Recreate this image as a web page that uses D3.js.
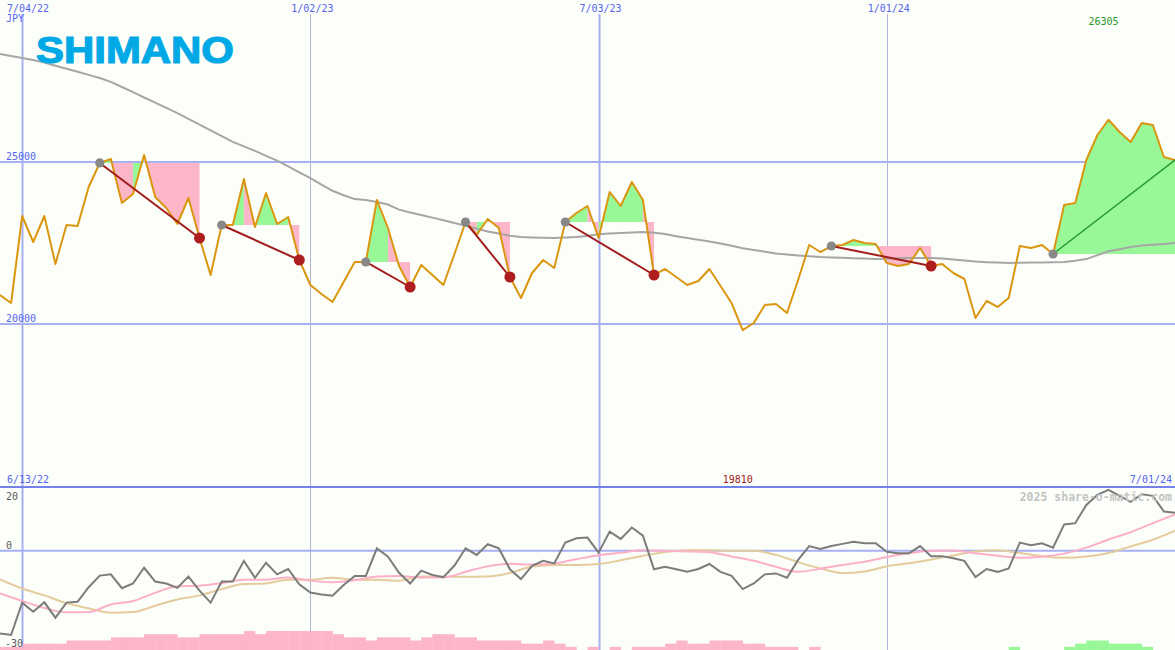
<!DOCTYPE html>
<html><head><meta charset="utf-8">
<script src="https://cdn.jsdelivr.net/npm/d3@7"></script>
<style>html,body{margin:0;padding:0;background:#fcfefa;overflow:hidden}svg{display:block}</style>
</head><body><svg id="c" width="1175" height="650"></svg>
<script>
// ---------- data (weekly, first week 2022-06-20) ----------
const startWeek = "2022-06-20";
const closes = [20895,20648,23333,22531,23333,21852,23056,23025,24228,24970,
 25093,23735,24012,25216,23920,23580,23086,23889,22654,21512,
 23056,23056,24475,22994,24043,23086,23302,21975,21204,20926,
 20679,21296,21914,21914,23827,22963,21790,21142,21821,21512,
 21204,22160,23148,22747,23241,22963,21451,20803,21574,21975,
 21728,23148,23426,23642,22654,24074,23642,24383,23827,21512,
 21698,21451,21204,21327,21698,21173,20648,19810,20031,20586,
 20617,20340,21358,22438,22222,22407,22438,22593,22500,22469,
 21883,21790,21852,22346,21790,21852,21574,21389,20185,20710,
 20525,20803,22407,22346,22438,22160,23673,23735,25062,25833,
 26305,25926,25617,26204,26142,25154,25062];
const movingAvg = [28333,28272,28210,28148,28068,27972,27877,27784,27688,27593,
 27475,27315,27154,26991,26830,26670,26506,26330,26154,25978,
 25799,25620,25481,25343,25191,25040,24864,24682,24500,24302,
 24111,23975,23855,23830,23765,23688,23531,23444,23367,23284,
 23204,23120,23034,22944,22858,22790,22725,22682,22670,22661,
 22658,22670,22682,22716,22772,22793,22809,22827,22837,22818,
 22778,22710,22651,22599,22546,22485,22414,22337,22284,22232,
 22179,22145,22117,22093,22068,22056,22043,22031,22022,22009,
 22016,22031,22037,22037,22037,22025,21994,21963,21926,21907,
 21895,21883,21889,21895,21901,21907,21914,21954,22003,22124,
 22244,22309,22377,22420,22448,22472,22500];
const oscillator = [-26.3,-26.8,-16.5,-19.4,-16.4,-21.3,-16.5,-16.2,-11.6,-7.9,
 -7.5,-11.9,-10.4,-5.4,-9.8,-10.4,-11.8,-8.2,-12.7,-16.5,
 -9.8,-9.8,-3.2,-8.6,-3.8,-7.5,-5.8,-10.7,-13.3,-13.9,
 -14.3,-10.9,-8.0,-8.0,0.8,-1.9,-7.0,-10.4,-6.3,-7.7,
 -8.4,-4.7,0.8,-1.3,2.1,0.8,-5.9,-9.0,-4.8,-3.2,
 -4.0,2.6,4.0,4.2,-0.6,6.1,3.8,7.4,4.8,-5.9,
 -5.1,-5.9,-6.7,-5.8,-4.2,-6.7,-8.0,-12.2,-10.4,-7.5,
 -7.2,-8.6,-2.9,1.5,0.6,1.5,2.2,2.9,2.4,2.4,
 -0.3,-0.8,-0.8,1.5,-1.7,-1.7,-2.4,-3.2,-8.4,-5.8,
 -6.7,-5.6,2.6,1.8,2.4,1.0,8.4,8.8,14.6,17.8,
 19.4,17.5,15.6,18.0,17.5,12.5,12.1];
// fast / slow signal lines, sampled every second week
const signalFast = [-13.6,-16.0,-18.2,-19.6,-19.5,-17.1,-16.0,-13.4,-11.3,-11.1,
 -10.3,-9.2,-9.2,-8.5,-9.5,-10.0,-9.4,-8.2,-8.0,-8.5,
 -8.5,-6.7,-4.9,-4.1,-4.4,-4.0,-2.7,-1.4,-0.6,0.2,
 0.0,-0.2,-0.5,-1.8,-3.2,-5.1,-6.7,-5.7,-4.5,-3.5,
 -2.0,-0.8,0.0,0.1,-0.8,-1.6,-2.2,-1.9,-0.9,1.0,
 3.6,5.9,8.8,11.6];
const signalSlow = [-9.1,-12.0,-14.2,-16.7,-18.3,-19.7,-19.5,-17.5,-15.5,-14.2,
 -12.2,-10.6,-10.4,-9.2,-9.2,-8.6,-9.2,-9.2,-9.5,-8.2,
 -8.2,-8.3,-8.2,-7.1,-5.0,-4.5,-4.5,-4.2,-3.0,-1.6,
 -0.4,0.2,0.2,0.0,0.0,-1.3,-3.6,-5.6,-7.1,-6.6,
 -4.9,-4.0,-2.8,-1.5,-0.2,0.2,-0.7,-1.7,-2.2,-1.8,
 -0.7,1.4,3.5,6.4];
const histogram = [-1,-1,-2,-2,-2,-2,-3,-3,-3,-3,
 -4,-4,-4,-5,-5,-5,-4,-4,-5,-5,
 -5,-5,-6,-5,-6,-6,-6,-6,-6,-6,
 -5,-4,-4,-3,-4,-4,-4,-3,-4,-5,
 -5,-4,-4,-3,-3,-3,-3,-2,-2,-3,
 -2,-1,0,-1,0,-1,0,-1,-1,-1,
 -2,-3,-2,-2,-3,-3,-3,-2,-2,-1,
 -1,-1,0,-1,0,0,0,0,0,0,
 0,0,0,0,0,0,0,0,0,0,
 0,1,0,0,0,0,1,2,3,3,
 2,2,2,1,0,0];
const swingStartDates = ["2022-08-22","2022-11-07","2023-02-06","2023-04-10","2023-06-12","2023-11-27","2024-04-15"];
const swingEndDates   = ["2022-10-24","2022-12-26","2023-03-06","2023-05-08","2023-08-07","2024-01-29","2024-07-01"];
const gridDates = ["2022-07-04","2023-01-02","2023-07-03","2024-01-01"];
const priceTicks = [25000, 20000];
const oscTicks = [20, 0, -30];
const currency = "JPY";
const companyName = "SHIMANO";
const lowerStartLabel = "6/13/22";
const lowerEndLabel = "7/01/24";
const watermark = "2025 share-o-matic.com";

// ---------- setup ----------
const W = 1175, H = 650;
const svg = d3.select("#c");
const parse = d3.timeParse("%Y-%m-%d");
const fmt = d3.timeFormat("%-m/%d/%y");
const n = closes.length;
const weeks = d3.range(n).map(i => d3.timeWeek.offset(parse(startWeek), i));
const idxOf = s => weeks.findIndex(w => +w === +parse(s));

const x = d3.scaleTime().domain([weeks[0], weeks[n - 1]]).range([0, W]);
const y = d3.scaleLinear().domain([15000, 30000]).range([486, 0]);
const yo = d3.scaleLinear().domain([-30, 20]).range([645, 488]);
const yh = d3.scaleLinear().domain([0, 6]).range([650, 631]);

const MONO = "'DejaVu Sans Mono', monospace";
const BLUE_TXT = "#5565ee";
const GRID = "#a6b0f2";
const GREEN_FILL = "#98f898", PINK_FILL = "#fcb6c8";

svg.append("rect").attr("width", W).attr("height", H).attr("fill", "#fcfefa");

// ---------- grid ----------
const g = svg.append("g");
priceTicks.forEach(v => {
  g.append("line").attr("x1", 0).attr("x2", W).attr("y1", y(v)).attr("y2", y(v))
    .attr("stroke", GRID).attr("stroke-width", 2);
});
gridDates.forEach(s => {
  const d = parse(s), major = d.getMonth() === 6;
  g.append("line").attr("x1", Math.round(x(d)) + 0.5).attr("x2", Math.round(x(d)) + 0.5)
    .attr("y1", 14).attr("y2", H)
    .attr("stroke", major ? GRID : "#b2b4da").attr("stroke-width", major ? 2 : 1);
});
g.append("line").attr("x1", 0).attr("x2", W).attr("y1", yo(0)).attr("y2", yo(0))
  .attr("stroke", GRID).attr("stroke-width", 2);
g.append("line").attr("x1", 0).attr("x2", W).attr("y1", 487).attr("y2", 487)
  .attr("stroke", "#7282ea").attr("stroke-width", 2);

// ---------- swing fills (one path per colour per swing, so no seams) ----------
const fills = svg.append("g");
swingStartDates.forEach((s, k) => {
  const a = idxOf(s), b = idxOf(swingEndDates[k]);
  const L = closes[a];
  const paths = { up: d3.path(), down: d3.path() };
  for (let i = a; i < b; i++) {
    const p = closes[i + 1] >= L ? paths.up : paths.down;
    p.moveTo(x(weeks[i]), y(L));
    p.lineTo(x(weeks[i]), y(closes[i]));
    p.lineTo(x(weeks[i + 1]), y(closes[i + 1]));
    p.lineTo(x(weeks[i + 1]), y(L));
    p.closePath();
  }
  fills.append("path").attr("d", paths.up.toString()).attr("fill", GREEN_FILL);
  fills.append("path").attr("d", paths.down.toString()).attr("fill", PINK_FILL);
});

// ---------- moving average & price ----------
const line = d3.line().x((d, i) => x(weeks[i])).y(d => y(d));
svg.append("path").attr("d", line(movingAvg)).attr("fill", "none")
  .attr("stroke", "#a6a6a6").attr("stroke-width", 2);
svg.append("path").attr("d", line(closes)).attr("fill", "none")
  .attr("stroke", "#da960f").attr("stroke-width", 2).attr("stroke-linejoin", "round");

// ---------- swing lines & dots ----------
const sw = svg.append("g");
swingStartDates.forEach((s, k) => {
  const a = idxOf(s), b = idxOf(swingEndDates[k]);
  const up = closes[b] > closes[a];
  sw.append("line").attr("x1", x(weeks[a])).attr("y1", y(closes[a]))
    .attr("x2", x(weeks[b])).attr("y2", y(closes[b]))
    .attr("stroke", up ? "#22992a" : "#a21c1c").attr("stroke-width", up ? 1.5 : 2);
});
swingStartDates.forEach((s, k) => {
  const a = idxOf(s), b = idxOf(swingEndDates[k]);
  const up = closes[b] > closes[a];
  sw.append("circle").attr("cx", x(weeks[a])).attr("cy", y(closes[a])).attr("r", 4.6).attr("fill", "#888");
  if (!up) sw.append("circle").attr("cx", x(weeks[b])).attr("cy", y(closes[b])).attr("r", 5.5).attr("fill", "#ae1e1e");
});

// ---------- lower panel ----------
svg.append("g").selectAll("rect").data(histogram).join("rect")
  .attr("x", (d, i) => x(weeks[i]))
  .attr("width", (d, i) => x(weeks[i + 1]) - x(weeks[i]) + 0.3)
  .attr("y", d => yh(Math.abs(d)))
  .attr("height", d => yh(0) - yh(Math.abs(d)))
  .attr("fill", d => d > 0 ? GREEN_FILL : PINK_FILL);

const half = (arr) => d3.line().curve(d3.curveMonotoneX)
  .x((d, i) => x(weeks[i * 2])).y(d => yo(d))(arr);
svg.append("path").attr("d", half(signalSlow)).attr("fill", "none")
  .attr("stroke", "#e4cc9c").attr("stroke-width", 2);
svg.append("path").attr("d", half(signalFast)).attr("fill", "none")
  .attr("stroke", "#fcb0c8").attr("stroke-width", 2);
svg.append("path").attr("d", d3.line().x((d, i) => x(weeks[i])).y(d => yo(d))(oscillator))
  .attr("fill", "none").attr("stroke", "#7c7c7c").attr("stroke-width", 2);

// ---------- text ----------
const t = svg.append("g").attr("font-family", MONO).attr("font-size", 10);
gridDates.forEach(s => {
  const d = parse(s);
  const lbl = fmt(d);
  const cx = x(d) + 2;
  const w = lbl.length * 6.02;
  t.append("text").attr("x", Math.max(7, cx - w / 2)).attr("y", 12).attr("fill", BLUE_TXT).text(lbl);
});
t.append("text").attr("x", 6).attr("y", 22).attr("fill", BLUE_TXT).text(currency);
priceTicks.forEach(v => {
  t.append("text").attr("x", 6).attr("y", y(v) - 2).attr("fill", BLUE_TXT).text(v);
});
const iMax = d3.maxIndex(closes), iMin = d3.minIndex(closes);
t.append("text").attr("x", x(weeks[iMax]) - 5).attr("y", 25).attr("text-anchor", "middle")
  .attr("fill", "#2a9a2a").text(closes[iMax]);
t.append("text").attr("x", x(weeks[iMin]) - 5).attr("y", 483).attr("text-anchor", "middle")
  .attr("fill", "#a01a1a").text(closes[iMin]);
t.append("text").attr("x", 7).attr("y", 483).attr("fill", BLUE_TXT).text(lowerStartLabel);
t.append("text").attr("x", 1172).attr("y", 483).attr("text-anchor", "end").attr("fill", BLUE_TXT).text(lowerEndLabel);
t.append("text").attr("x", 6).attr("y", 500).attr("fill", "#5a5a5a").text(oscTicks[0]);
t.append("text").attr("x", 6).attr("y", 549).attr("fill", "#5a5a5a").text(oscTicks[1]);
t.append("text").attr("x", 5).attr("y", 647).attr("fill", "#5a5a5a").text(oscTicks[2]);
t.append("text").attr("x", 1172).attr("y", 501).attr("text-anchor", "end")
  .attr("font-size", 11.5).attr("font-weight", "bold").attr("fill", "#c4c4c4").text(watermark);

svg.append("text").attr("x", 36).attr("y", 63)
  .attr("font-family", "'Liberation Sans', Arial, sans-serif").attr("font-weight", "bold")
  .attr("font-size", 37).attr("textLength", 198).attr("lengthAdjust", "spacingAndGlyphs")
  .attr("fill", "#00a9e6").attr("stroke", "#00a9e6").attr("stroke-width", 1.2)
  .text(companyName);
</script></body></html>
